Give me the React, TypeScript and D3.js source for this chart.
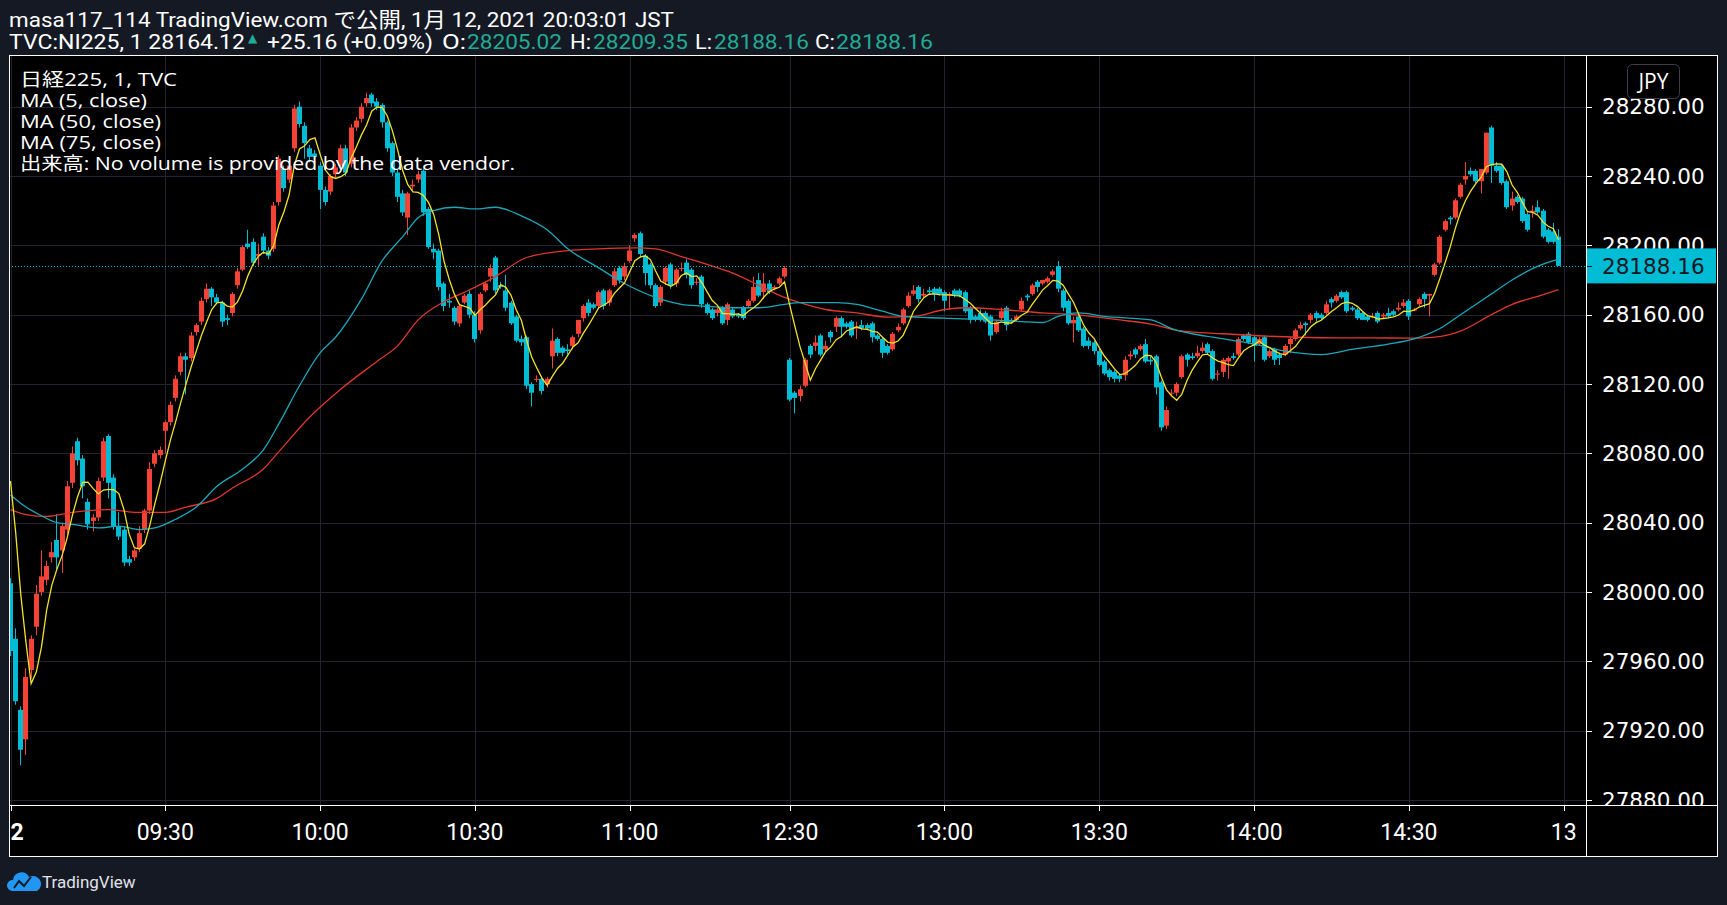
import * as d3 from "d3";

type Bar = [number, number, number, number]; // open, high, low, close

// 1-minute bars, 12 Jan 2021, 09:00 - 11:30
const morningBars: Bar[] = [
  [28005, 28008, 27963, 27966], [27973, 27979, 27935, 27937], [27932, 27934, 27900, 27909], [27915, 27956, 27906, 27951],
  [27955, 27975, 27950, 27973], [27980, 28004, 27975, 27999], [28000, 28024, 27998, 28009], [28007, 28018, 28004, 28015],
  [28020, 28029, 28017, 28023], [28030, 28045, 28013, 28020], [28024, 28040, 28011, 28038], [28036, 28064, 28033, 28061],
  [28063, 28084, 28060, 28080], [28087, 28089, 28073, 28076], [28077, 28079, 28054, 28061], [28052, 28054, 28036, 28039],
  [28041, 28045, 28035, 28043], [28043, 28066, 28041, 28064], [28066, 28089, 28064, 28087], [28090, 28091, 28054, 28063],
  [28066, 28068, 28036, 28038], [28038, 28046, 28030, 28032], [28036, 28038, 28015, 28017], [28019, 28021, 28015, 28017],
  [28020, 28025, 28018, 28024], [28025, 28038, 28023, 28034], [28036, 28048, 28034, 28047], [28047, 28075, 28045, 28071],
  [28074, 28082, 28072, 28080], [28079, 28084, 28077, 28082], [28093, 28099, 28080, 28098], [28098, 28110, 28096, 28108],
  [28112, 28125, 28110, 28123], [28127, 28138, 28125, 28136], [28136, 28138, 28114, 28134], [28135, 28150, 28133, 28148],
  [28150, 28155, 28148, 28154], [28156, 28170, 28154, 28168], [28169, 28178, 28167, 28175], [28175, 28176, 28165, 28170],
  [28170, 28172, 28166, 28167], [28167, 28168, 28153, 28156], [28158, 28160, 28154, 28157], [28161, 28173, 28159, 28172],
  [28177, 28187, 28175, 28185], [28186, 28200, 28185, 28199], [28201, 28209, 28198, 28199], [28202, 28204, 28188, 28190],
  [28194, 28201, 28188, 28195], [28205, 28207, 28195, 28197], [28197, 28199, 28192, 28194], [28198, 28225, 28196, 28223],
  [28225, 28252, 28223, 28250], [28244, 28246, 28231, 28233], [28238, 28248, 28236, 28246], [28256, 28281, 28254, 28279],
  [28280, 28283, 28268, 28270], [28269, 28271, 28250, 28259], [28256, 28258, 28248, 28251], [28253, 28255, 28244, 28251],
  [28246, 28248, 28221, 28232], [28232, 28234, 28223, 28225], [28231, 28241, 28229, 28240], [28241, 28247, 28239, 28245],
  [28246, 28258, 28244, 28256], [28256, 28258, 28240, 28242], [28247, 28270, 28245, 28268], [28268, 28274, 28266, 28272],
  [28273, 28282, 28271, 28280], [28282, 28288, 28280, 28285], [28287, 28288, 28280, 28282], [28283, 28285, 28278, 28280],
  [28281, 28282, 28268, 28271], [28271, 28272, 28254, 28256], [28259, 28260, 28240, 28242], [28242, 28244, 28225, 28228],
  [28230, 28232, 28217, 28219], [28216, 28231, 28206, 28230], [28234, 28238, 28232, 28235], [28238, 28243, 28236, 28241],
  [28243, 28244, 28217, 28219], [28221, 28222, 28198, 28199], [28198, 28201, 28192, 28196], [28197, 28198, 28174, 28176],
  [28178, 28179, 28162, 28165], [28168, 28172, 28164, 28167], [28164, 28165, 28154, 28156], [28155, 28166, 28153, 28165],
  [28167, 28172, 28166, 28171], [28172, 28174, 28158, 28160], [28160, 28162, 28144, 28146], [28151, 28173, 28149, 28172],
  [28174, 28179, 28173, 28178], [28182, 28189, 28179, 28187], [28193, 28194, 28172, 28174], [28177, 28179, 28175, 28176],
  [28174, 28183, 28162, 28164], [28167, 28168, 28154, 28155], [28159, 28160, 28144, 28145], [28146, 28148, 28142, 28144],
  [28147, 28148, 28117, 28119], [28120, 28121, 28107, 28115], [28123, 28125, 28121, 28123], [28123, 28124, 28114, 28116],
  [28120, 28124, 28118, 28123], [28136, 28152, 28129, 28145], [28146, 28147, 28136, 28138], [28141, 28142, 28136, 28138],
  [28140, 28143, 28137, 28139], [28142, 28148, 28140, 28147], [28149, 28157, 28147, 28157], [28158, 28166, 28156, 28165],
  [28167, 28169, 28159, 28161], [28166, 28167, 28163, 28164], [28165, 28174, 28164, 28173], [28174, 28175, 28163, 28165],
  [28167, 28175, 28165, 28174], [28177, 28187, 28176, 28185], [28187, 28188, 28178, 28180], [28182, 28190, 28180, 28188],
  [28191, 28200, 28190, 28197], [28204, 28207, 28202, 28206], [28207, 28208, 28193, 28195], [28194, 28195, 28177, 28184],
  [28189, 28190, 28175, 28177], [28177, 28178, 28164, 28165], [28167, 28177, 28165, 28176], [28179, 28188, 28177, 28187],
  [28189, 28190, 28175, 28177], [28178, 28187, 28176, 28186], [28187, 28190, 28185, 28187], [28190, 28192, 28181, 28183],
  [28186, 28187, 28175, 28177], [28179, 28181, 28177, 28179], [28182, 28183, 28164, 28166], [28166, 28167, 28160, 28161],
  [28163, 28164, 28157, 28158], [28161, 28164, 28159, 28163], [28164, 28165, 28154, 28155], [28157, 28167, 28154, 28166],
  [28163, 28164, 28158, 28159], [28160, 28161, 28158, 28159], [28164, 28165, 28157, 28158], [28165, 28169, 28164, 28168],
  [28168, 28182, 28167, 28176], [28180, 28184, 28170, 28171], [28173, 28184, 28169, 28178], [28178, 28180, 28172, 28173],
  [28175, 28177, 28174, 28176], [28178, 28182, 28177, 28181], [28182, 28188, 28181, 28187],
];

// 12:30 - 14:59
const afternoonBars: Bar[] = [
  [28134, 28135, 28110, 28111], [28115, 28116, 28103, 28112], [28113, 28119, 28110, 28117], [28119, 28135, 28118, 28134],
  [28142, 28143, 28135, 28137], [28142, 28148, 28139, 28144], [28148, 28149, 28136, 28137], [28140, 28145, 28139, 28142],
  [28150, 28151, 28144, 28147], [28153, 28159, 28150, 28158], [28158, 28159, 28147, 28153], [28155, 28156, 28152, 28153],
  [28156, 28157, 28147, 28148], [28152, 28156, 28146, 28153], [28154, 28157, 28151, 28152], [28154, 28155, 28151, 28152],
  [28155, 28156, 28144, 28147], [28148, 28149, 28145, 28146], [28146, 28147, 28135, 28138], [28142, 28143, 28137, 28138],
  [28140, 28150, 28139, 28149], [28151, 28155, 28150, 28153], [28155, 28164, 28154, 28163], [28165, 28173, 28164, 28171],
  [28172, 28177, 28171, 28174], [28176, 28177, 28167, 28169], [28171, 28175, 28170, 28172], [28174, 28176, 28172, 28173],
  [28175, 28176, 28168, 28172], [28175, 28176, 28171, 28172], [28173, 28174, 28162, 28168], [28171, 28173, 28163, 28172],
  [28174, 28175, 28170, 28171], [28174, 28175, 28170, 28171], [28173, 28174, 28161, 28162], [28164, 28165, 28155, 28157],
  [28159, 28160, 28156, 28157], [28161, 28163, 28156, 28157], [28161, 28162, 28155, 28156], [28159, 28160, 28145, 28148],
  [28150, 28157, 28149, 28156], [28158, 28164, 28157, 28162], [28164, 28165, 28151, 28154], [28157, 28158, 28155, 28156],
  [28157, 28160, 28156, 28159], [28163, 28170, 28162, 28168], [28171, 28172, 28168, 28170], [28172, 28178, 28171, 28177],
  [28179, 28180, 28173, 28176], [28178, 28180, 28177, 28180], [28179, 28182, 28178, 28181], [28183, 28186, 28182, 28185],
  [28188, 28191, 28173, 28175], [28174, 28175, 28162, 28164], [28168, 28169, 28154, 28155], [28155, 28159, 28144, 28157],
  [28159, 28160, 28150, 28151], [28152, 28153, 28141, 28142], [28145, 28147, 28140, 28142], [28144, 28145, 28137, 28139],
  [28139, 28141, 28130, 28131], [28133, 28134, 28125, 28126], [28128, 28129, 28122, 28124], [28127, 28128, 28121, 28123],
  [28125, 28126, 28121, 28123], [28125, 28136, 28122, 28134], [28136, 28139, 28134, 28137], [28140, 28141, 28135, 28137],
  [28140, 28143, 28139, 28142], [28143, 28146, 28132, 28133], [28134, 28136, 28131, 28133], [28136, 28137, 28114, 28118],
  [28121, 28122, 28093, 28095], [28096, 28107, 28094, 28105], [28115, 28117, 28113, 28115], [28115, 28121, 28113, 28120],
  [28124, 28137, 28123, 28136], [28137, 28138, 28130, 28134], [28136, 28138, 28134, 28135], [28136, 28142, 28135, 28138],
  [28139, 28144, 28138, 28141], [28143, 28144, 28137, 28138], [28139, 28140, 28122, 28123], [28126, 28128, 28122, 28126],
  [28127, 28135, 28124, 28134], [28133, 28136, 28123, 28135], [28136, 28138, 28134, 28135], [28137, 28147, 28136, 28146],
  [28148, 28149, 28145, 28146], [28149, 28150, 28143, 28144], [28147, 28148, 28133, 28142], [28143, 28147, 28142, 28146],
  [28147, 28148, 28133, 28134], [28136, 28140, 28135, 28139], [28140, 28141, 28131, 28134], [28137, 28138, 28131, 28135],
  [28137, 28143, 28136, 28142], [28143, 28147, 28138, 28146], [28146, 28152, 28145, 28151], [28152, 28156, 28151, 28154],
  [28155, 28156, 28148, 28154], [28157, 28161, 28155, 28160], [28161, 28162, 28156, 28158], [28160, 28161, 28157, 28158],
  [28161, 28168, 28160, 28166], [28169, 28170, 28164, 28167], [28168, 28172, 28167, 28171], [28173, 28174, 28169, 28170],
  [28173, 28174, 28161, 28162], [28164, 28165, 28162, 28163], [28163, 28164, 28157, 28158], [28161, 28162, 28157, 28157],
  [28159, 28160, 28156, 28157], [28159, 28161, 28158, 28159], [28161, 28162, 28155, 28156], [28159, 28161, 28158, 28160],
  [28161, 28164, 28158, 28159], [28162, 28163, 28159, 28160], [28163, 28167, 28162, 28164], [28165, 28169, 28164, 28167],
  [28168, 28169, 28157, 28159], [28163, 28164, 28162, 28163], [28166, 28170, 28165, 28169], [28172, 28173, 28164, 28169],
  [28171, 28172, 28159, 28172], [28183, 28190, 28182, 28189], [28190, 28206, 28189, 28205], [28209, 28215, 28208, 28214],
  [28216, 28217, 28212, 28215], [28216, 28227, 28215, 28226], [28228, 28236, 28227, 28235], [28238, 28248, 28235, 28240],
  [28243, 28245, 28240, 28241], [28243, 28244, 28236, 28237], [28237, 28244, 28230, 28244], [28242, 28265, 28241, 28265],
  [28268, 28269, 28236, 28246], [28246, 28248, 28242, 28243], [28246, 28247, 28235, 28236], [28237, 28238, 28221, 28222],
  [28223, 28231, 28220, 28227], [28228, 28229, 28224, 28225], [28227, 28228, 28213, 28214], [28218, 28219, 28208, 28209],
  [28219, 28223, 28216, 28220], [28222, 28226, 28218, 28219], [28220, 28221, 28204, 28205], [28209, 28210, 28201, 28202],
  [28208, 28213, 28201, 28202], [28205.02, 28209.35, 28188.16, 28188.16],
];

// closes of the previous session's last bars (feed MA 5 at the left edge)
const prevCloses = [28085, 28090, 28088, 28091];

// MA 50 / MA 75: [bar index, value]
const ma50Points: [number, number][] = [
  [0, 28056], [3, 28049], [6, 28044], [9, 28040], [12, 28039], [17, 28037], [21, 28038], [25, 28036], [28, 28037],
  [32, 28042], [36, 28049], [40, 28061], [45, 28071], [49, 28082], [52, 28097], [56, 28119], [60, 28138], [63, 28147],
  [68, 28169], [72, 28191], [76, 28205], [79, 28216], [82, 28220], [86, 28222], [90, 28221], [94, 28222], [99, 28217],
  [104, 28209], [108, 28198], [114, 28187], [119, 28178], [125, 28170], [130, 28166], [134, 28165], [140, 28164],
  [145, 28164], [150, 28166], [153, 28167], [160, 28167], [164, 28166], [169, 28162], [173, 28159], [181, 28158],
  [190, 28157], [196, 28156], [200, 28155.5], [203, 28159], [207, 28161], [212, 28159], [221, 28157], [225, 28152],
  [229, 28149], [233, 28147], [241, 28143], [247, 28139], [254, 28137], [260, 28140], [267, 28143], [272, 28146],
  [277, 28152], [281, 28160], [287, 28172], [291, 28180], [296, 28188], [300, 28192],
];
const ma75Points: [number, number][] = [
  [0, 28047.5], [3, 28044.7], [7, 28043.6], [12, 28046], [19, 28047.5], [24, 28046], [30, 28046], [34, 28049],
  [40, 28054], [43, 28060], [49, 28071], [52, 28081], [58, 28101], [64, 28117], [71, 28133], [75, 28142], [79, 28157],
  [84, 28167.5], [88, 28173], [94, 28182], [100, 28193], [108, 28197], [114, 28198], [121, 28198.5], [125, 28198],
  [130, 28193.5], [135, 28189], [140, 28184], [147, 28174], [150, 28170], [153, 28167], [158, 28163], [164, 28161],
  [170, 28158.6], [175, 28159], [181, 28163], [185, 28164], [192, 28163], [200, 28161], [206, 28160], [215, 28157],
  [222, 28154], [226, 28151], [235, 28149], [241, 28148], [254, 28146.7], [263, 28146.6], [272, 28146.5], [276, 28147],
  [281, 28150.5], [287, 28160], [291, 28166], [296, 28170.6], [300, 28174.4],
];

const priceTicks = [27880, 27920, 27960, 28000, 28040, 28080, 28120, 28160, 28200, 28240, 28280];
const timeTickIndex = [0, 30, 60, 90, 120, 151, 181, 211, 241, 271, 301];
const timeTickLabels = ["12", "09:30", "10:00", "10:30", "11:00", "12:30", "13:00", "13:30", "14:00", "14:30", "13"];

const lastPrice = 28188.16;
const headerLine1 = "masa117_114 TradingView.com で公開, 1月 12, 2021 20:03:01 JST";
const headerLine2 = [
  { text: "TVC:NI225, 1 28164.12", teal: false, x: 9, w: 236 },
  { text: "+25.16 (+0.09%)", teal: false, x: 267, w: 166 },
  { text: "O:", teal: false, x: 442, w: 24 },
  { text: "28205.02", teal: true, x: 467, w: 95 },
  { text: "H:", teal: false, x: 570, w: 21 },
  { text: "28209.35", teal: true, x: 593, w: 95 },
  { text: "L:", teal: false, x: 695, w: 17 },
  { text: "28188.16", teal: true, x: 714, w: 95 },
  { text: "C:", teal: false, x: 815, w: 20 },
  { text: "28188.16", teal: true, x: 836, w: 97 },
];
const legendLines = ["日経225, 1, TVC", "MA (5, close)", "MA (50, close)", "MA (75, close)", "出来高: No volume is provided by the data vendor."];
const legendWidths = [157, 127, 141, 141, 495];

const W = 1727;
const H = 905;
const paneL = 9, paneT = 55, paneR = 1718, paneB = 857;
const axisX = 1586, axisY = 805;

const UP = "#f44336";
const DOWN = "#00bcd4";
const TEAL = "#22ab94";
const GRID = "#22252f";

export default function App() {
  const bars = [...morningBars, ...afternoonBars];

  const x = d3.scaleLinear().domain([0, 301]).range([10.5, 1563.7]);
  const y = d3.scaleLinear().domain([27880, 28280]).range([800, 106.7]);

  const closes = bars.map((b) => b[3]);
  const closesExt = [...prevCloses, ...closes];
  const ma5 = closes.map((_, i) => [i, d3.mean(closesExt.slice(i, i + 5)) as number] as [number, number]);

  const straight = d3.line<[number, number]>().x((d) => x(d[0])).y((d) => y(d[1]));
  const smooth = d3
    .line<[number, number]>()
    .x((d) => x(d[0]))
    .y((d) => y(d[1]))
    .curve(d3.curveMonotoneX);

  const uiFont = "Roboto, 'Noto Sans CJK JP', sans-serif";
  const legendFont = "'Open Sans', 'Noto Sans CJK JP', sans-serif";
  const axisFont = "'DejaVu Sans', sans-serif";

  return (
    <svg width={W} height={H} style={{ position: "absolute", left: 0, top: 0, display: "block" }}>
      <defs>
        <clipPath id="plotClip">
          <rect x={paneL} y={paneT} width={axisX - paneL} height={axisY - paneT} />
        </clipPath>
        <clipPath id="priceClip">
          <rect x={axisX} y={paneT} width={paneR - axisX} height={axisY - paneT} />
        </clipPath>
        <clipPath id="timeClip">
          <rect x={paneL + 1} y={axisY} width={axisX - paneL - 1} height={paneB - axisY} />
        </clipPath>
      </defs>

      <rect x={0} y={0} width={W} height={H} fill="#151924" />

      {/* header */}
      <text x={9} y={27} fill="#fff" fontFamily={uiFont} fontSize={21} textLength={665} lengthAdjust="spacingAndGlyphs">
        {headerLine1}
      </text>
      {headerLine2.map((s, k) => (
        <text key={k} x={s.x} y={49} fill={s.teal ? TEAL : "#fff"} fontFamily={uiFont} fontSize={21} textLength={s.w} lengthAdjust="spacingAndGlyphs">
          {s.text}
        </text>
      ))}
      <text x={248} y={42} fill={TEAL} fontFamily={axisFont} fontSize={12}>▲</text>

      {/* pane */}
      <rect x={paneL} y={paneT} width={paneR - paneL} height={paneB - paneT} fill="#000" />

      <g clipPath="url(#plotClip)">
        {priceTicks.map((p) => (
          <line key={p} x1={paneL} x2={axisX} y1={Math.round(y(p)) + 0.5} y2={Math.round(y(p)) + 0.5} stroke={GRID} />
        ))}
        {timeTickIndex.map((i) => (
          <line key={i} x1={Math.round(x(i)) + 0.5} x2={Math.round(x(i)) + 0.5} y1={paneT} y2={axisY} stroke={GRID} />
        ))}

        {bars.map((b, i) => {
          const [o, h, l, c] = b;
          const up = c >= o;
          const color = up ? UP : DOWN;
          const bx = Math.round(x(i) - 2.5);
          const top = y(Math.max(o, c));
          const bh = Math.max(1, y(Math.min(o, c)) - top);
          return (
            <g key={i} fill={color}>
              <rect x={bx + 2} y={y(h)} width={1} height={Math.max(1, y(l) - y(h))} />
              <rect x={bx} y={top} width={5} height={bh} />
            </g>
          );
        })}

        <path d={smooth(ma75Points) ?? ""} fill="none" stroke="#e0372d" strokeWidth={1.3} />
        <path d={smooth(ma50Points) ?? ""} fill="none" stroke="#1ba8bb" strokeWidth={1.3} />
        <path d={straight(ma5) ?? ""} fill="none" stroke="#f3e22a" strokeWidth={1.3} />

        <line x1={paneL} x2={axisX} y1={Math.round(y(lastPrice)) + 0.5} y2={Math.round(y(lastPrice)) + 0.5} stroke={DOWN} strokeDasharray="1 2" />
      </g>

      {/* legend */}
      {legendLines.map((t, k) => (
        <text key={k} x={20} y={86 + k * 21} fill="#fff" fontFamily={legendFont} fontSize={18} textLength={legendWidths[k]} lengthAdjust="spacingAndGlyphs">
          {t}
        </text>
      ))}

      {/* price axis */}
      <g clipPath="url(#priceClip)">
        {priceTicks.map((p) => (
          <g key={p}>
            <line x1={axisX} x2={axisX + 6} y1={Math.round(y(p)) + 0.5} y2={Math.round(y(p)) + 0.5} stroke="#fff" />
            <text x={1602} y={y(p)} dy="0.36em" fill="#fff" fontFamily={axisFont} fontSize={21.5}>
              {p.toFixed(2)}
            </text>
          </g>
        ))}
        <rect x={axisX} y={y(lastPrice) - 17.5} width={130} height={35} fill={DOWN} />
        <line x1={axisX} x2={axisX + 6} y1={Math.round(y(lastPrice)) + 0.5} y2={Math.round(y(lastPrice)) + 0.5} stroke="#131722" />
        <text x={1602} y={y(lastPrice)} dy="0.36em" fill="#131722" fontFamily={axisFont} fontSize={21.5}>
          {lastPrice.toFixed(2)}
        </text>
        <rect x={1627.5} y={64.5} width={52} height={34} rx={5} fill="#000" stroke="#3a3e4a" />
        <text x={1653.5} y={81.5} dy="0.36em" textAnchor="middle" fill="#fff" fontFamily={legendFont} fontSize={21}>
          JPY
        </text>
      </g>

      {/* time axis */}
      <g clipPath="url(#timeClip)">
        {timeTickIndex.map((i, k) => (
          <g key={i}>
            <line x1={Math.round(x(i)) + 0.5} x2={Math.round(x(i)) + 0.5} y1={axisY} y2={axisY + 6} stroke="#fff" />
            <text x={x(i)} y={832} dy="0.36em" textAnchor="middle" fill="#fff" fontFamily={uiFont} fontSize={23} fontWeight={k === 0 ? 700 : 400}>
              {timeTickLabels[k]}
            </text>
          </g>
        ))}
      </g>

      {/* frame */}
      <rect x={paneL + 0.5} y={paneT + 0.5} width={paneR - paneL - 1} height={paneB - paneT - 1} fill="none" stroke="#fff" />
      <line x1={axisX + 0.5} x2={axisX + 0.5} y1={paneT} y2={paneB} stroke="#fff" />
      <line x1={paneL} x2={paneR} y1={axisY + 0.5} y2={axisY + 0.5} stroke="#fff" />

      {/* footer logo */}
      <path d="M12 891 a5.5 5.5 0 0 1 1-11 a8.5 8.5 0 0 1 16-3 a7 7 0 0 1 8 14 z" fill="#2196f3" />
      <polyline points="14,888 19,881 24,886 31,877" fill="none" stroke="#131722" strokeWidth={2} />
      <text x={42} y={888} fill="#e0e3eb" fontFamily={uiFont} fontSize={17}>
        TradingView
      </text>
    </svg>
  );
}
